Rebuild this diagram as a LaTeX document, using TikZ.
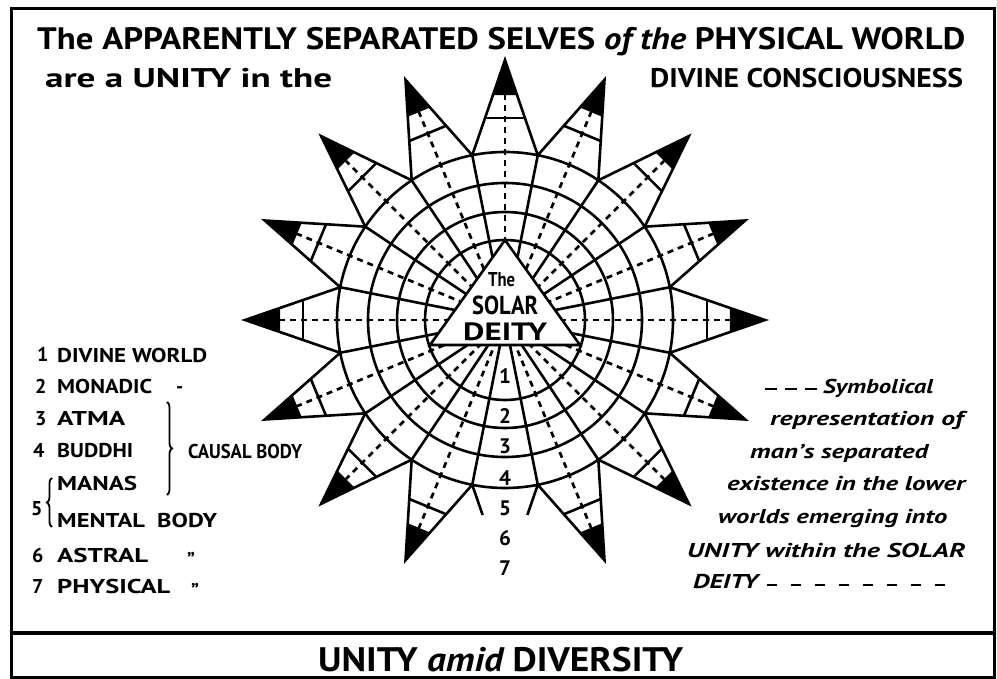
\documentclass[tikz,border=0pt]{standalone}
\usepackage{fontspec}
\setmainfont{PT Sans}
\usetikzlibrary{decorations.pathreplacing}
\newcommand\fitw[3]{\resizebox{#1pt}{\height}{\fontsize{#2pt}{#2pt}\selectfont #3}}
\begin{document}
\begin{tikzpicture}[x=1pt,y=-1pt,
  ln/.style={line width=2.6pt},
  dsh/.style={line width=2.7pt, dash pattern=on 6pt off 5pt},
  txt/.style={anchor=base west, inner sep=0pt, font=\bfseries},
  ctxt/.style={anchor=base, inner sep=0pt, font=\bfseries},
  brc/.style={line width=1.8pt, decorate, decoration={brace, amplitude=5pt}}]
\useasboundingbox (0,0) rectangle (997,679);
% frame
\draw[line width=3pt] (11,9) rectangle (994,677);
\draw[line width=3.5pt] (11,633) -- (994,633);
% star
\begin{scope}[shift={(505,320)}]
  \foreach \r in {80,108,137,168} \draw[ln] (0,0) circle[radius=\r];
  \foreach \j in {0,...,15} \draw[ln] (0,0) -- ({101.25+22.5*\j}:168);
  \foreach \k in {1,...,15} {
    \pgfmathsetmacro\a{90+22.5*\k}
    \draw[dsh] (0,0) -- (\a:225);
    \draw[ln, line join=miter] ({\a-11.25}:168) -- (\a:260) -- ({\a+11.25}:168);
    \draw[ln] ({\a-5.643}:202.98) -- ({\a+5.643}:202.98);
    \fill ({\a-3.066}:225.32) -- (\a:260) -- ({\a+3.066}:225.32) -- cycle;
  }
  \draw[ln] (78.75:168) -- (83.46:196.3);
  \draw[ln] (101.25:168) -- (96.54:196.3);
\end{scope}
\filldraw[ln, fill=white, line join=miter] (505,240) -- (430,345) -- (580,345) -- cycle;
% triangle text
\node[txt] (the) at (488,287) {\fitw{27}{20}{The}};
\node[txt] (solar) at (472,315) {\fitw{66}{26}{SOLAR}};
\node[txt] (deity) at (463,341) {\fitw{84}{25}{DEITY}};
% column numbers
\node[ctxt] (n1) at (505,383) {\fontsize{21}{21}\selectfont 1};
\node[ctxt] (n2) at (505,423) {\fontsize{21}{21}\selectfont 2};
\node[ctxt] (n3) at (505,453) {\fontsize{21}{21}\selectfont 3};
\node[ctxt] (n4) at (505,485) {\fontsize{21}{21}\selectfont 4};
\node[ctxt] (n5) at (505,515) {\fontsize{21}{21}\selectfont 5};
\node[ctxt] (n6) at (505,545) {\fontsize{21}{21}\selectfont 6};
\node[ctxt] (n7) at (505,575) {\fontsize{21}{21}\selectfont 7};
% titles
\node[txt] (t1) at (37,50) {\fitw{928}{31}{The APPARENTLY SEPARATED SELVES {\itshape of the} PHYSICAL WORLD}};
\node[txt] (t2) at (45,88) {\fitw{287}{27}{are a UNITY in the}};
\node[txt] (t3) at (650,88) {\fitw{313}{27}{DIVINE CONSCIOUSNESS}};
\node[txt] (tb) at (318,671) {\fitw{365}{34}{UNITY {\itshape amid} DIVERSITY}};
% legend
\node[txt] (l1n) at (37,362) {\fontsize{20}{20}\selectfont 1};
\node[txt] (l1) at (57,362) {\fitw{150}{20}{DIVINE WORLD}};
\node[txt] (l2n) at (35,393) {\fontsize{20}{20}\selectfont 2};
\node[txt] (l2) at (57,393) {\fitw{95}{20}{MONADIC}};
\node[txt] (l2d) at (176,393) {\fontsize{20}{20}\selectfont -};
\node[txt] (l3n) at (35,425) {\fontsize{20}{20}\selectfont 3};
\node[txt] (l3) at (57,425) {\fitw{68}{20}{ATMA}};
\node[txt] (l4n) at (33,457) {\fontsize{20}{20}\selectfont 4};
\node[txt] (l4) at (57,457) {\fitw{76}{20}{BUDDHI}};
\node[txt] (l5a) at (57,490) {\fitw{80}{20}{MANAS}};
\node[txt] (l5b) at (57,527) {\fitw{160}{20}{MENTAL\hspace{0.5em}BODY}};
\node[txt] (l5n) at (31,515) {\fontsize{20}{20}\selectfont 5};
\node[txt] (l6n) at (32,562) {\fontsize{20}{20}\selectfont 6};
\node[txt] (l6) at (57,562) {\fitw{91}{20}{ASTRAL}};
\node[txt] (l6d) at (187,566) {\fontsize{20}{20}\selectfont \symbol{34}};
\node[txt] (l7n) at (32,593) {\fontsize{20}{20}\selectfont 7};
\node[txt] (l7) at (57,593) {\fitw{113}{20}{PHYSICAL}};
\node[txt] (l7d) at (191,597) {\fontsize{20}{20}\selectfont \symbol{34}};
\node[txt] (causal) at (188,458) {\fitw{114}{20}{CAUSAL BODY}};
\coordinate (b1a) at (52,527); \coordinate (b1b) at (52,478);
\draw[brc] (b1a) -- (b1b);
\coordinate (b2a) at (167,402); \coordinate (b2b) at (167,495);
\draw[brc] (b2a) -- (b2b);
% right text
\node[txt] (r1) at (823,393) {\fitw{110}{20}{\itshape Symbolical}};
\node[txt] (r2) at (770,425) {\fitw{193}{20}{\itshape representation of}};
\node[txt] (r3) at (750,458) {\fitw{178}{20}{\itshape man’s separated}};
\node[txt] (r4) at (727,490) {\fitw{238}{20}{\itshape existence in the lower}};
\node[txt] (r5) at (718,523) {\fitw{229}{20}{\itshape worlds emerging into}};
\node[txt] (r6) at (687,557) {\fitw{278}{20}{\itshape UNITY within the SOLAR}};
\node[txt] (r7) at (693,588) {\fitw{65}{20}{\itshape DEITY}};
\coordinate (d1a) at (765,389); \coordinate (d1b) at (818,389);
\draw[line width=2.5pt, dash pattern=on 12pt off 8pt] (d1a) -- (d1b);
\coordinate (d2a) at (767,585); \coordinate (d2b) at (957,585);
\draw[line width=2.5pt, dash pattern=on 10pt off 14pt] (d2a) -- (d2b);
\end{tikzpicture}
\end{document}
